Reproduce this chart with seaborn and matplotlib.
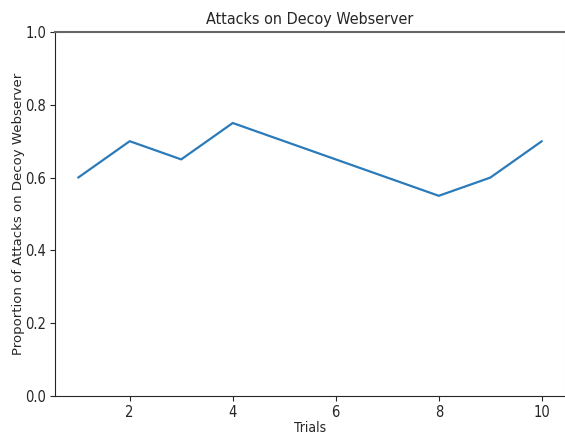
import matplotlib
matplotlib.use('Agg')
import matplotlib.pyplot as plt
import seaborn as sns
import pandas as pd

# Data
trials = [1, 2, 3, 4, 5, 6, 7, 8, 9, 10]
proportions = [0.60, 0.70, 0.65, 0.75, 0.70, 0.65, 0.60, 0.55, 0.60, 0.70]

df = pd.DataFrame({'Trials': trials, 'Proportion': proportions})

sns.set_style('ticks')
plt.rcParams['font.family'] = ['DejaVu Sans']
plt.rcParams['font.stretch'] = 'condensed'

fig = plt.figure(figsize=(5.65, 4.34), dpi=100)
ax = fig.add_axes([55 / 565, 38 / 434, 1.0 - 55 / 565, 364 / 434])

sns.lineplot(data=df, x='Trials', y='Proportion', color='#2b7bba', linewidth=1.6, ax=ax)

ax.set_ylim(0, 1.0)
ax.set_xticks([2, 4, 6, 8, 10])
ax.set_yticks([0.0, 0.2, 0.4, 0.6, 0.8, 1.0])
ax.set_title('Attacks on Decoy Webserver', fontsize=11.5, pad=6)
ax.set_xlabel('Trials', fontsize=10, labelpad=1)
ax.set_ylabel('Proportion of Attacks on Decoy Webserver', fontsize=9.5,
              fontstretch='normal', labelpad=0)
ax.tick_params(labelsize=10.5, pad=3)
for side in ['top', 'right']:
    ax.spines[side].set_visible(True)
ax.spines['top'].set_color('#666666')
ax.spines['top'].set_linewidth(1.5)
ax.spines['right'].set_color('#dddddd')

plt.savefig('out.png', dpi=100)
